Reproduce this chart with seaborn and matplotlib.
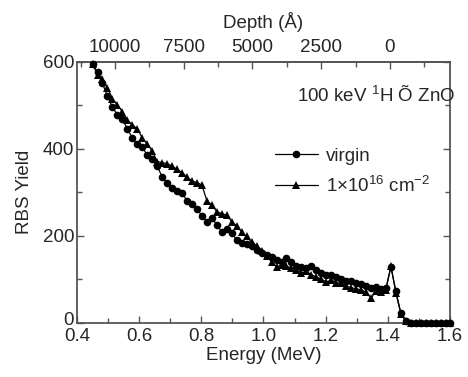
import matplotlib
matplotlib.use("Agg")
import matplotlib.pyplot as plt
import matplotlib.transforms as mtransforms
import seaborn as sns
import pandas as pd
from matplotlib.ticker import MultipleLocator

energy = [0.450, 0.466, 0.482, 0.498, 0.514, 0.530, 0.546, 0.562, 0.578, 0.594,
          0.610, 0.626, 0.642, 0.658, 0.674, 0.690, 0.706, 0.722, 0.738, 0.754,
          0.770, 0.786, 0.802, 0.818, 0.834, 0.850, 0.866, 0.882, 0.898, 0.914,
          0.930, 0.946, 0.962, 0.978, 0.994, 1.010, 1.026, 1.042, 1.058, 1.074,
          1.090, 1.106, 1.122, 1.138, 1.154, 1.170, 1.186, 1.202, 1.218, 1.234,
          1.250, 1.266, 1.282, 1.298, 1.314, 1.330, 1.346, 1.362, 1.378, 1.394,
          1.410, 1.426, 1.442, 1.458, 1.474, 1.490, 1.506, 1.522, 1.538, 1.554,
          1.570, 1.586, 1.600]

virgin = [595, 575, 550, 520, 495, 478, 468, 445, 425, 410,
          403, 385, 375, 360, 335, 320, 310, 302, 298, 280,
          272, 262, 245, 232, 240, 225, 208, 215, 205, 190,
          183, 180, 175, 167, 160, 155, 150, 145, 140, 148,
          140, 130, 127, 125, 130, 120, 115, 110, 110, 105,
          100, 95, 95, 90, 88, 85, 80, 82, 78, 80,
          128, 72, 22, 3, 0, 0, 0, 0, 0, 0,
          0, 0, 0]

implanted = [595, 570, 560, 540, 515, 500, 485, 465, 455, 445,
             425, 410, 395, 370, 368, 365, 360, 352, 345, 335,
             325, 322, 316, 280, 270, 255, 250, 247, 232, 222,
             208, 198, 185, 176, 165, 152, 140, 128, 132, 130,
             125, 122, 114, 118, 110, 105, 100, 93, 98, 92,
             90, 85, 80, 78, 75, 70, 56, 72, 70, 75,
             130, 68, 20, 3, 0, 0, 0, 0, 0, 0,
             0, 0, 0]

labels = ["virgin", r"1$\times$10$^{16}$ cm$^{-2}$"]
depth_ticks = [10000, 7500, 5000, 2500, 0]

sns.set_theme(style="ticks")
plt.rcParams["font.family"] = ["Liberation Sans", "DejaVu Sans"]
plt.rcParams["mathtext.fontset"] = "custom"
plt.rcParams["mathtext.rm"] = "Liberation Sans"

FS = 13.5
fig = plt.figure(figsize=(4.68, 3.77), dpi=100)
ax = fig.add_axes([0.1645, 0.1443, 0.797, 0.6923])

df_v = pd.DataFrame({"E": energy, "Y": virgin})
df_i = pd.DataFrame({"E": energy, "Y": implanted})
sns.lineplot(data=df_v, x="E", y="Y", ax=ax, color="black", lw=0.9,
             marker="o", markersize=5.5, markeredgewidth=0, label=labels[0],
             clip_on=False, zorder=3)
sns.lineplot(data=df_i, x="E", y="Y", ax=ax, color="black", lw=0.9,
             marker="^", markersize=6, markeredgewidth=0, label=labels[1],
             clip_on=False, zorder=3)

ax.set_xlim(0.4, 1.6)
ax.set_ylim(0, 600)
ax.xaxis.set_major_locator(MultipleLocator(0.2))
ax.xaxis.set_minor_locator(MultipleLocator(0.1))
ax.yaxis.set_major_locator(MultipleLocator(200))
ax.yaxis.set_minor_locator(MultipleLocator(100))
ax.xaxis.set_major_formatter(plt.FuncFormatter(lambda v, p: f"{v:.1f}"))
ax.set_xlabel("Energy (MeV)", fontsize=FS, labelpad=1)
ax.set_ylabel("RBS Yield", fontsize=FS, labelpad=7)

spine_col = "#555555"
for s in ax.spines.values():
    s.set_color(spine_col)
    s.set_linewidth(1.3)
    s.set_visible(True)
ax.tick_params(which="both", direction="in", right=True, color=spine_col,
               labelsize=FS)
ax.tick_params(axis="x", which="both", pad=4)
ax.tick_params(axis="y", which="both", pad=2)
ax.tick_params(which="major", length=5, width=1)
ax.tick_params(which="minor", length=3.5, width=1)
ax.tick_params(axis="x", top=False)

# nudge the y "0" label up slightly so it does not collide with "0.4"
fig.canvas.draw()
for t in ax.get_yticklabels():
    if t.get_text() == "0":
        t.set_transform(t.get_transform() +
                        mtransforms.ScaledTranslation(0, 3 / 72, fig.dpi_scale_trans))

E0 = 1.407
k = 0.0000885
def e2d(e):
    return (E0 - e) / k
def d2e(d):
    return E0 - d * k

sec = ax.secondary_xaxis("top", functions=(e2d, d2e))
sec.set_xticks(depth_ticks)
sec.xaxis.set_minor_locator(MultipleLocator(1250))
sec.xaxis.set_major_formatter(plt.FuncFormatter(lambda v, p: f"{int(round(v))}"))
sec.tick_params(which="both", direction="in", color=spine_col, labelsize=FS, pad=4)
sec.tick_params(which="major", length=5, width=1)
sec.tick_params(which="minor", length=3.5, width=1)
sec.spines["top"].set_color(spine_col)
sec.spines["top"].set_linewidth(1.3)
sec.set_xlabel("Depth (Å)", fontsize=FS, labelpad=8)

ax.text(0.59, 0.868, r"100 keV $^{1}$H Õ ZnO", transform=ax.transAxes,
        fontsize=FS, ha="left", va="center")

leg = ax.legend(loc="upper left", bbox_to_anchor=(0.51, 0.70), frameon=False,
                fontsize=FS, handlelength=2.3, handletextpad=0.45,
                labelspacing=0.55, borderaxespad=0)

fig.savefig("out.png", dpi=100)
